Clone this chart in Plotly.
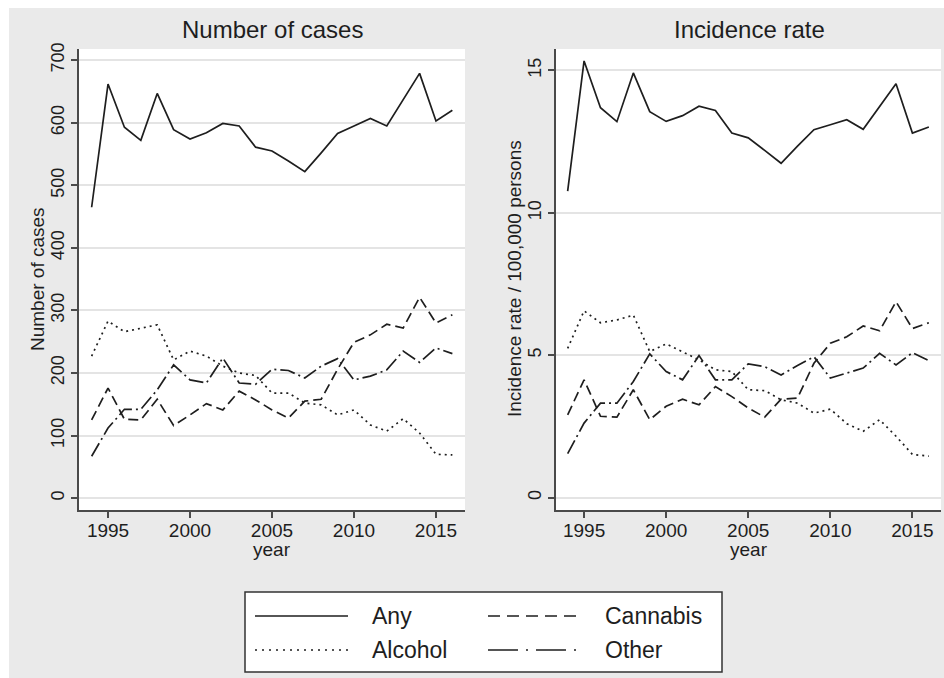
import plotly.graph_objects as go

# ---- data -------------------------------------------------------------
years = list(range(1994, 2017))

# Number of cases
cases_any = [465, 662, 593, 572, 647, 589, 574, 584, 599, 595, 561, 555,
             539, 522, 552, 583, 595, 607, 595, 637, 679, 603, 620]
cases_cannabis = [125, 176, 126, 125, 158, 116, 133, 151, 141, 171, 157, 141,
                  128, 155, 158, 206, 249, 261, 278, 272, 321, 280, 293]
cases_alcohol = [227, 283, 266, 272, 277, 221, 235, 227, 211, 200, 196, 168,
                 168, 152, 149, 133, 141, 117, 107, 127, 104, 70, 69]
cases_other = [67, 112, 142, 142, 173, 213, 189, 184, 224, 184, 182, 206,
               204, 192, 211, 223, 189, 195, 205, 235, 217, 240, 231]

# Incidence rate per 100,000 persons
rate_any = [10.76, 15.33, 13.69, 13.20, 14.91, 13.55, 13.21, 13.41, 13.74, 13.59,
            12.80, 12.63, 12.19, 11.74, 12.34, 12.92, 13.09, 13.27, 12.93, 13.71,
            14.53, 12.80, 13.01]
rate_cannabis = [2.91, 4.14, 2.86, 2.83, 3.79, 2.74, 3.21, 3.46, 3.26, 3.90,
                 3.55, 3.15, 2.83, 3.46, 3.50, 4.72, 5.42, 5.65, 6.03, 5.86,
                 6.88, 5.94, 6.14]
rate_alcohol = [5.24, 6.56, 6.14, 6.24, 6.41, 5.13, 5.40, 5.13, 4.84, 4.49,
                4.43, 3.79, 3.76, 3.44, 3.32, 2.97, 3.11, 2.60, 2.33, 2.74,
                2.16, 1.52, 1.46]
rate_other = [1.55, 2.62, 3.32, 3.32, 4.08, 5.05, 4.43, 4.14, 4.99, 4.14,
              4.14, 4.70, 4.60, 4.31, 4.64, 4.95, 4.20, 4.37, 4.55, 5.07,
              4.66, 5.09, 4.81]

year_ticks = [1995, 2000, 2005, 2010, 2015]
cases_ticks = [0, 100, 200, 300, 400, 500, 600, 700]
rate_ticks = [0, 5, 10, 15]

series_names = ["Any", "Cannabis", "Alcohol", "Other"]

# ---- styling ----------------------------------------------------------
W, H = 944, 678
FONT = "Liberation Sans, Arial, sans-serif"
INK = "#1e1e1e"
AXIS = "#4a4a4a"
GRID = "#e4e4e4"
BG = "#eaeaea"
LW = 1.7

dash_plot = {"Any": "solid", "Cannabis": "10px,5px",
             "Alcohol": "2px,4px", "Other": "15px,4px,2px,4px"}
dash_key = {"Any": "solid", "Cannabis": "12px,7px",
            "Alcohol": "2px,5px", "Other": "30px,8px,2px,8px"}


def px_x(x):
    return x / W


def px_y(y):
    return 1 - y / H


panel_left = (79, 465)
panel_right = (556, 941)
panel_top, panel_bottom = 49, 510

fig = go.Figure()

panels = [
    ("x", "y", [cases_any, cases_cannabis, cases_alcohol, cases_other]),
    ("x2", "y2", [rate_any, rate_cannabis, rate_alcohol, rate_other]),
]
for xa, ya, values in panels:
    for name, vals in zip(series_names, values):
        fig.add_trace(go.Scatter(
            x=years, y=vals, mode="lines", name=name, showlegend=False,
            line=dict(color=INK, width=LW, dash=dash_plot[name]),
            xaxis=xa, yaxis=ya, hoverinfo="x+y+name"))

ydom = [px_y(panel_bottom), px_y(panel_top)]
common_x = dict(showgrid=False, zeroline=False, showline=True, linecolor=AXIS,
                linewidth=1.5, ticks="outside", ticklen=6, tickcolor=AXIS,
                tickwidth=1.5, tickvals=year_ticks, ticklabelstandoff=-4,
                tickfont=dict(family=FONT, size=19, color=INK))
common_y = dict(showgrid=True, gridcolor=GRID, gridwidth=1.5, zeroline=False,
                showline=True, linecolor=AXIS, linewidth=1.5, ticks="outside",
                ticklen=6, tickcolor=AXIS, tickwidth=1.5, tickangle=-90,
                tickfont=dict(family=FONT, size=18, color=INK))

fig.update_layout(
    width=W, height=H,
    margin=dict(l=0, r=0, t=0, b=0, autoexpand=False),
    paper_bgcolor=BG, plot_bgcolor="white",
    showlegend=False,
    font=dict(family=FONT, color=INK),
    xaxis=dict(domain=[px_x(panel_left[0]), px_x(panel_left[1])],
               range=[1993.23, 2016.77], anchor="y", automargin=False,
               **common_x),
    yaxis=dict(domain=ydom, range=[-19, 718], tickvals=cases_ticks,
               anchor="x", automargin=False, **common_y),
    xaxis2=dict(domain=[px_x(panel_right[0]), px_x(panel_right[1])],
                range=[1993.29, 2016.74], anchor="y2", automargin=False,
                **common_x),
    yaxis2=dict(domain=ydom, range=[-0.43, 15.75], tickvals=rate_ticks,
                anchor="x2", automargin=False, **common_y),
)

shapes = [
    # thin white border along the top and left edges of the canvas
    dict(type="rect", xref="paper", yref="paper", x0=0, x1=1,
         y0=px_y(8), y1=1, fillcolor="white", line=dict(width=0),
         layer="below"),
    dict(type="rect", xref="paper", yref="paper", x0=0, x1=px_x(9),
         y0=0, y1=1, fillcolor="white", line=dict(width=0), layer="below"),
]

# legend box with long line keys, two columns
box = (245, 592, 722, 672)
shapes.append(dict(type="rect", xref="paper", yref="paper",
                   x0=px_x(box[0]), x1=px_x(box[2]),
                   y0=px_y(box[3]), y1=px_y(box[1]),
                   fillcolor="white", line=dict(color="#333333", width=1.5)))

annotations = []
key_layout = [
    ("Any", 255, 348, 370, 616),
    ("Cannabis", 488, 582, 603, 616),
    ("Alcohol", 255, 348, 370, 650),
    ("Other", 488, 582, 603, 650),
]
for name, k0, k1, tx, ty in key_layout:
    shapes.append(dict(type="line", xref="paper", yref="paper",
                       x0=px_x(k0), x1=px_x(k1), y0=px_y(ty), y1=px_y(ty),
                       line=dict(color=INK, width=LW, dash=dash_key[name])))
    annotations.append(dict(text=name, xref="paper", yref="paper",
                            x=px_x(tx), y=px_y(ty), xanchor="left",
                            yanchor="middle", showarrow=False,
                            font=dict(family=FONT, size=23, color=INK)))

# panel titles
for text, cx in [("Number of cases", 272), ("Incidence rate", 749)]:
    annotations.append(dict(text=text, xref="paper", yref="paper",
                            x=px_x(cx), y=px_y(30), xanchor="center",
                            yanchor="middle", showarrow=False,
                            font=dict(family=FONT, size=24, color=INK)))

# axis titles
for cx in (272, 749):
    annotations.append(dict(text="year", xref="paper", yref="paper",
                            x=px_x(cx), y=px_y(549), xanchor="center",
                            yanchor="middle", showarrow=False,
                            font=dict(family=FONT, size=19, color=INK)))
for text, cx in [("Number of cases", 37),
                 ("Incidence rate / 100,000 persons", 514)]:
    annotations.append(dict(text=text, xref="paper", yref="paper",
                            x=px_x(cx), y=px_y(279), xanchor="center",
                            yanchor="middle", textangle=-90, showarrow=False,
                            font=dict(family=FONT, size=19, color=INK)))

fig.update_layout(shapes=shapes, annotations=annotations)

fig.write_html("out.html")
